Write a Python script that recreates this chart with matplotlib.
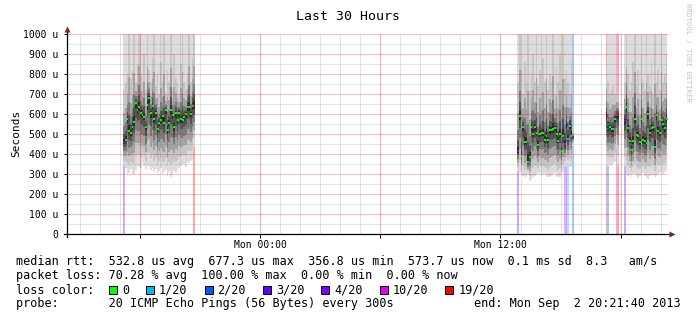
import numpy as np
import matplotlib
matplotlib.use('Agg')
import matplotlib.pyplot as plt
from matplotlib.patches import Rectangle
from matplotlib.ticker import MultipleLocator, FixedLocator, FixedFormatter, FuncFormatter
from matplotlib.colors import to_rgb

# time axis in hours relative to Mon 00:00, 5 minute steps
STEP = 1 / 12
T_END = 20 + 21 / 60 + 40 / 3600
T_START = T_END - 30

# --- smoke data, one entry per 5 min sample (values in microseconds) ---
seg1_start = -82
seg1_median = [457, 468, 573, 512, 502, 535, 560, 653, 620, 635, 605, 595, 585, 533, 643,
               678, 602, 640, 575, 605, 525, 555, 568, 587, 555, 620, 518, 555, 620, 595,
               532, 603, 568, 605, 573, 570, 582, 598, 632, 635, 600, 637, 640]
seg1_low = [340, 330, 298, 305, 323, 300, 298, 320, 340, 335, 330, 357, 340, 323, 345,
            335, 320, 330, 310, 325, 300, 315, 330, 300, 310, 320, 290, 310, 282, 300,
            315, 305, 320, 330, 340, 345, 350, 335, 360, 355, 365, 373, 435]
seg1_up = [720, 760, 800, 1000, 780, 820, 1000, 760, 850, 1000, 800, 760, 900, 720, 1000,
           820, 760, 880, 1000, 740, 800, 700, 860, 760, 1000, 700, 820, 760, 1000, 720,
           900, 780, 760, 700, 850, 1000, 760, 720, 800, 1000, 760, 880, 1000]
seg1_high = [1000] * len(seg1_median)
seg1_loss = {0: 4, 42: 19}

seg2_start = 154
seg2_median = [412, 590, 390, 532, 457, 457, 357, 385, 532, 498, 532, 503, 443, 498, 502,
               502, 468, 490, 468, 518, 520, 523, 528, 500, 465, 498, 415, 490, 448, 543,
               473, 540, 490, 482]
seg2_low = [315, 310, 300, 290, 282, 290, 300, 265, 275, 285, 290, 298, 300, 305, 290,
            298, 300, 290, 282, 285, 290, 298, 305, 290, 282, 285, 300, 310, 340, 335,
            340, 332, 335, 440]
seg2_up = [760, 1000, 820, 700, 860, 760, 1000, 720, 800, 900, 760, 1000, 740, 820, 700,
           880, 760, 1000, 720, 800, 760, 1000, 700, 840, 760, 900, 720, 1000, 780, 820,
           760, 700, 860, 520]
seg2_high = [1000] * 33 + [520]
seg2_loss = {0: 4, 28: 10, 29: 3, 30: 1, 33: 2}

seg3_start = 207
seg3_median = [592, 525, 533, 522, 522, 575, 592, 592]
seg3_low = [332, 340, 345, 340, 350, 360, 432, 340]
seg3_up = [825, 760, 700, 720, 740, 700, 710, 710]
seg3_high = [825, 1000, 1000, 1000, 1000, 1000, 710, 710]
seg3_loss = {0: 19, 1: 2, 6: 10, 7: 19}

seg4_start = 218
seg4_median = [562, 632, 528, 465, 418, 462, 573, 495, 490, 457, 573, 468, 462, 452, 598,
               502, 527, 532, 435, 593, 515, 502, 570, 548, 527, 573]
seg4_low = [340, 300, 290, 295, 285, 300, 298, 290, 280, 290, 300, 305, 290, 285, 275,
            290, 300, 295, 285, 290, 300, 305, 310, 300, 310, 320]
seg4_up = [760, 1000, 800, 720, 760, 860, 1000, 740, 820, 700, 900, 760, 720, 1000, 800,
           740, 860, 700, 1000, 760, 820, 720, 1000, 760, 800, 900]
seg4_high = [1000] * len(seg4_median)
seg4_loss = {0: 4}

loss_levels = [0, 1, 2, 3, 4, 10, 19]
loss_labels = ['0', '1/20', '2/20', '3/20', '4/20', '10/20', '19/20']
loss_colors = ['#00ff00', '#00b8ff', '#0059ff', '#5e00ff', '#7e00ff', '#dd00ff', '#ff0000']
loss_color = dict(zip(loss_levels, loss_colors))

segments = [
    (seg1_start, seg1_median, seg1_low, seg1_up, seg1_high, seg1_loss),
    (seg2_start, seg2_median, seg2_low, seg2_up, seg2_high, seg2_loss),
    (seg3_start, seg3_median, seg3_low, seg3_up, seg3_high, seg3_loss),
    (seg4_start, seg4_median, seg4_low, seg4_up, seg4_high, seg4_loss),
]

MONO = 'DejaVu Sans Mono'
W, H = 697, 321


def fx(x):
    return x / W


def fy(y):
    return 1 - y / H


def light(c, a=0.35):
    r, g, b = to_rgb(c)
    return (1 - a + a * r, 1 - a + a * g, 1 - a + a * b)


fig = plt.figure(figsize=(W / 100, H / 100), dpi=100)
fig.patch.set_facecolor('white')
# half pixel offset so the grid lines land on pixel rows
ax = fig.add_axes([fx(67), fy(233.5), 601 / W, 200 / H])

# smoke layers: (fraction from low towards median, fraction from median towards up, colour)
layers = [
    (0.2, 1.0, '#c6c6c6'),
    (0.4, 0.55, '#a2a2a2'),
    (0.6, 0.3, '#7a7a7a'),
    (0.78, 0.16, '#525252'),
    (0.92, 0.06, '#2a2a2a'),
]

for start, med, low, up, high, loss in segments:
    med = np.array(med, float)
    low = np.array(low, float)
    up = np.array(up, float)
    high = np.array(high, float)
    t = (start + np.arange(len(med))) * STEP
    te = np.append(t, t[-1] + STEP)

    # loss bars behind the smoke
    for i, l in loss.items():
        ax.bar(t[i], 1000, width=STEP, bottom=0, align='edge', color=light(loss_color[l]),
               lw=0, zorder=1)

    def band(y1, y2, c):
        ax.fill_between(te, np.append(y1, y1[-1]), np.append(y2, y2[-1]), step='post',
                        color=c, lw=0, zorder=2)

    band(low, high, '#dcdcdc')
    for fl, fu, c in layers:
        band(low + fl * (med - low), np.minimum(med + fu * (up - med), high), c)

    cols = [loss_color[loss.get(i, 0)] for i in range(len(med))]
    ax.bar(t, 10, width=STEP * 1.15, bottom=med - 5, align='edge', color=cols, lw=0, zorder=3)

ax.set_xlim(T_START, T_END)
ax.set_ylim(0, 1000)

# grid: red every 100 u / 6 h, grey every 50 u / 1 h
for v in range(50, 1000, 100):
    ax.axhline(v, color='#808080', alpha=0.2, lw=0.72, zorder=2.5)
for v in range(100, 1001, 100):
    ax.axhline(v, color='#ff0000', alpha=0.27, lw=0.72, zorder=2.6)
for h in range(-9, 21):
    if h % 6:
        ax.axvline(h, color='#808080', alpha=0.22, lw=0.72, zorder=2.5)
    else:
        ax.axvline(h, color='#ff0000', alpha=0.33, lw=0.72, zorder=2.6)

ax.yaxis.set_major_locator(MultipleLocator(100))
ax.yaxis.set_major_formatter(FuncFormatter(lambda v, p: '0' if v == 0 else f'{int(v)} u'))
ax.xaxis.set_major_locator(FixedLocator([-6, 0, 6, 12, 18]))
ax.xaxis.set_major_formatter(FixedFormatter(['', 'Mon 00:00', '', 'Mon 12:00', '']))

ax.tick_params(axis='y', which='major', length=2, width=0.7, pad=4, labelsize=7)
ax.tick_params(axis='x', which='major', length=3, width=0.7, pad=2, labelsize=7)
for lbl in ax.get_xticklabels() + ax.get_yticklabels():
    lbl.set_family(MONO)

for s in ax.spines.values():
    s.set_visible(False)
ax.plot([0, 0], [-0.015, 1.02], transform=ax.transAxes, color='black', lw=0.9,
        clip_on=False, zorder=5)
ax.plot([-0.005, 1.004], [0, 0], transform=ax.transAxes, color='black', lw=0.9,
        clip_on=False, zorder=5)
ax.plot(0, 1.022, marker='^', ms=4, color='#8b2020', mec='none', transform=ax.transAxes,
        clip_on=False, zorder=6)
ax.plot(1.007, 0, marker='>', ms=4, color='#8b2020', mec='none', transform=ax.transAxes,
        clip_on=False, zorder=6)

fig.text(fx(348), fy(16), 'Last 30 Hours', ha='center', va='center', family=MONO,
         fontsize=9.5)
fig.text(fx(16), fy(133), 'Seconds', rotation=90, ha='center', va='center', family=MONO,
         fontsize=8)
fig.text(fx(688), fy(3), 'RRDTOOL / TOBI OETIKER', rotation=270, ha='center', va='top',
         family=MONO, fontsize=5.3, color='#c0c0c0')

# legend
LX = 16
CW = 7.1
fs = 8.5
rows = [
    'median rtt:  532.8 us avg  677.3 us max  356.8 us min  573.7 us now  0.1 ms sd  8.3   am/s',
    'packet loss: 70.28 % avg  100.00 % max  0.00 % min  0.00 % now',
    'loss color:',
    'probe:       20 ICMP Echo Pings (56 Bytes) every 300s',
]
row_y = [261, 276, 290, 304]
for txt, y in zip(rows, row_y):
    fig.text(fx(LX), fy(y), txt, ha='left', va='center', family=MONO, fontsize=fs)
fig.text(fx(681), fy(304), 'end: Mon Sep  2 20:21:40 2013', ha='right', va='center',
         family=MONO, fontsize=fs)

bx = 109
for lab, c in zip(loss_labels, loss_colors):
    fig.patches.append(Rectangle((fx(bx), fy(294)), 8 / W, 8 / H, transform=fig.transFigure,
                                 facecolor=c, edgecolor='black', lw=0.7))
    fig.text(fx(bx + 13), fy(290), lab, ha='left', va='center', family=MONO, fontsize=fs)
    bx = bx + 13 + len(lab) * CW + 17

fig.savefig('out.png', dpi=100)
